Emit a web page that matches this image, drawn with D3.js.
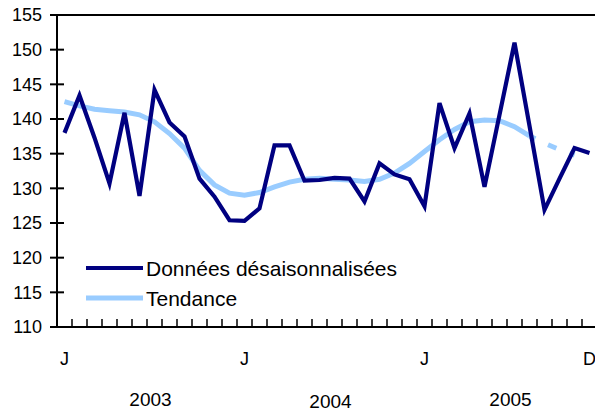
<!doctype html>
<html>
<head>
<meta charset="utf-8" />
<script src="https://d3js.org/d3.v7.min.js"></script>
<style>
  body { margin: 0; background: #fff; }
  text { font-family: "Liberation Sans", Arial, Helvetica, sans-serif; fill: #000; }
</style>
</head>
<body>
<div id="chart"></div>
<script>
// months Jan 2003 .. Dec 2005
var months = [];
[2003, 2004, 2005].forEach(function(y) {
  for (var m = 1; m <= 12; m++) months.push(y + "-" + (m < 10 ? "0" + m : m));
});

// seasonally adjusted data
var donnees = [138.0, 143.4, 137.3, 130.7, 140.9, 128.9, 144.2, 139.5, 137.5, 131.4, 128.8, 125.4,
               125.3, 127.1, 136.2, 136.2, 131.1, 131.2, 131.5, 131.4, 128.1, 133.6, 132.0, 131.3,
               127.4, 142.3, 135.8, 140.8, 130.2, 140.6, 151.0, 139.0, 126.9, 131.4, 135.8, 135.1];

// trend (ends in Nov 2005, last months are provisional -> dashed)
var tendance = [142.5, 141.9, 141.4, 141.2, 141.0, 140.6, 139.6, 137.9, 135.8, 132.6, 130.5, 129.3,
                129.0, 129.4, 130.2, 130.9, 131.3, 131.45, 131.3, 131.2, 131.0, 131.3, 132.2, 133.6,
                135.3, 137.0, 138.5, 139.6, 139.85, 139.75, 138.9, 137.55, 136.5, 135.6, 134.8];
var dashFrom = 31;

var yTicks = d3.range(110, 156, 5);
var xLabels = [{m: "2003-01", t: "J"}, {m: "2004-01", t: "J"}, {m: "2005-01", t: "J"}, {m: "2005-12", t: "D"}];
var yearLabels = [{m: "2003-07", t: "2003"}, {m: "2004-07", t: "2004"}, {m: "2005-07", t: "2005"}];

var W = 595, H = 411;
var svg = d3.select("#chart").append("svg").attr("width", W).attr("height", H);

var x = d3.scaleBand().domain(months).range([57, 597]).padding(0);
var y = d3.scaleLinear().domain([110, 155]).range([327, 15]);
var cx = function(i) { return x(months[i]) + x.bandwidth() / 2; };

// frame: left axis + top line
svg.append("line").attr("x1", 57).attr("x2", 57).attr("y1", 14).attr("y2", 328)
  .attr("stroke", "#000").attr("stroke-width", 2);
svg.append("line").attr("x1", 56).attr("x2", 597).attr("y1", 15).attr("y2", 15)
  .attr("stroke", "#000").attr("stroke-width", 2);

// y ticks (crossing the axis) and labels
svg.selectAll(".yt").data(yTicks).enter().append("line")
  .attr("x1", 50).attr("x2", 64).attr("y1", d => y(d)).attr("y2", d => y(d))
  .attr("stroke", "#000").attr("stroke-width", 2);
svg.selectAll(".yl").data(yTicks).enter().append("text")
  .attr("x", 42).attr("y", d => y(d)).attr("dy", "0.35em")
  .attr("text-anchor", "end").style("font-size", "18px").text(d => d);

// x axis with month ticks pointing up
svg.append("line").attr("x1", 56).attr("x2", 597).attr("y1", 327).attr("y2", 327)
  .attr("stroke", "#000").attr("stroke-width", 2);
svg.selectAll(".xt").data(months.slice(1)).enter().append("line")
  .attr("x1", d => x(d)).attr("x2", d => x(d)).attr("y1", 327).attr("y2", 319)
  .attr("stroke", "#000").attr("stroke-width", 1.5);
svg.selectAll(".xl").data(xLabels).enter().append("text")
  .attr("x", d => x(d.m) + x.bandwidth() / 2).attr("y", 365)
  .attr("text-anchor", "middle").style("font-size", "18px").text(d => d.t);
svg.selectAll(".yr").data(yearLabels).enter().append("text")
  .attr("x", d => x(d.m) + x.bandwidth() / 2 - 4).attr("y", (d, i) => i == 1 ? 408 : 406)
  .attr("text-anchor", "middle").style("font-size", "19px").text(d => d.t);

// lines
var line = d3.line().x(d => cx(d.i)).y(d => y(d.v));
var trendPts = tendance.map((v, i) => ({i: i, v: v}));

svg.append("path").datum(trendPts.slice(0, dashFrom + 1)).attr("d", line)
  .attr("fill", "none").attr("stroke", "#99ccff").attr("stroke-width", 5);
svg.append("path").datum(trendPts.slice(dashFrom)).attr("d", line)
  .attr("fill", "none").attr("stroke", "#99ccff").attr("stroke-width", 5)
  .attr("stroke-dasharray", "9,14").attr("stroke-dashoffset", 2.5);

svg.append("path").datum(donnees.map((v, i) => ({i: i, v: v}))).attr("d", line)
  .attr("fill", "none").attr("stroke", "#000080").attr("stroke-width", 4.2)
  .attr("stroke-linejoin", "miter");

// legend
var legend = [{t: "Données désaisonnalisées", c: "#000080", w: 4.2, y: 268},
              {t: "Tendance", c: "#99ccff", w: 5, y: 298}];
var lg = svg.selectAll(".lg").data(legend).enter().append("g");
lg.append("line").attr("x1", 86).attr("x2", 143).attr("y1", d => d.y).attr("y2", d => d.y)
  .attr("stroke", d => d.c).attr("stroke-width", d => d.w);
lg.append("text").attr("x", 146).attr("y", d => d.y + 7.5)
  .style("font-size", "21px").text(d => d.t);
</script>
</body>
</html>
